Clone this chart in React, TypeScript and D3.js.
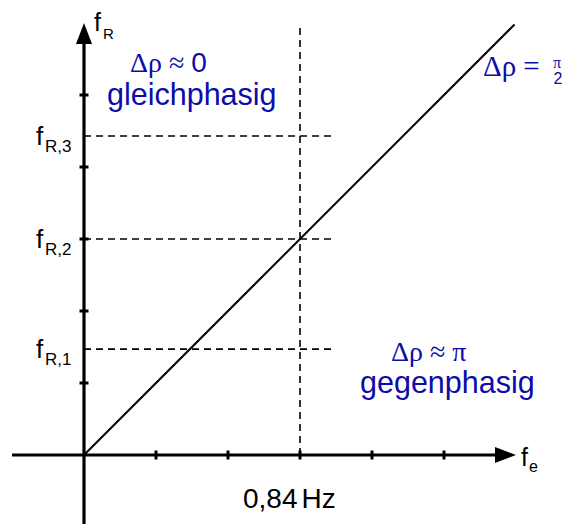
import React from 'react';
import * as d3 from 'd3';

// ticks along both axes (arbitrary units)
const xTicks = [1, 2, 3, 4, 5];
const yTicks = [1, 2, 3, 4, 5];

// resonance levels marked on the f_R axis
const resonanceLevels = [1.47, 3.0, 4.43];
const resonanceSubs = ['R,1', 'R,2', 'R,3'];

// excitation frequency marked on the f_e axis
const driveFreq = 3;
const driveLabel = '0,84';
const driveUnit = 'Hz';

// the line delta-rho = pi/2 (f_R = f_e)
const diagonal: [number, number][] = [[0, 0], [5.98, 5.98]];

const W = 566;
const H = 524;
const blue = '#0c0ca8';
const sans = 'Arial, "Liberation Sans", Helvetica, sans-serif';
const serif = '"Times New Roman", "Liberation Serif", serif';

export default function App() {
  const x = d3.scaleLinear().domain([-1, 6]).range([12, 516]);
  const y = d3.scaleLinear().domain([-1, 6]).range([527, 23]);
  const line = d3.line<[number, number]>().x(d => x(d[0])).y(d => y(d[1]));

  const x0 = x(0), y0 = y(0);
  const xEnd = x(6), yEnd = y(6);
  const dashEnd = x(3.45);

  return (
    <svg width={W} height={H} style={{position: 'absolute', left: 0, top: 0, background: '#fff'}}>
      {/* dashed helper lines */}
      {resonanceLevels.map((r, i) => (
        <line key={'h' + i} x1={x0} x2={dashEnd} y1={y(r)} y2={y(r)}
              stroke="#000" strokeWidth={1.6} strokeDasharray="7,5"/>
      ))}
      <line x1={x(driveFreq)} x2={x(driveFreq)} y1={y0} y2={y(5.97)}
            stroke="#000" strokeWidth={1.6} strokeDasharray="7,5"/>

      {/* diagonal */}
      <path d={line(diagonal) || ''} fill="none" stroke="#000" strokeWidth={2}/>

      {/* x axis */}
      <line x1={x(-1)} x2={xEnd - 18} y1={y0} y2={y0} stroke="#000" strokeWidth={3.2}/>
      <polygon points={`${xEnd},${y0} ${xEnd - 21},${y0 - 8} ${xEnd - 21},${y0 + 8}`} fill="#000"/>
      {xTicks.map(t => (
        <line key={'xt' + t} x1={x(t)} x2={x(t)} y1={y0 - 4.5} y2={y0 + 4.5} stroke="#000" strokeWidth={3}/>
      ))}

      {/* y axis */}
      <line x1={x0} x2={x0} y1={y(-1)} y2={yEnd + 18} stroke="#000" strokeWidth={3.2}/>
      <polygon points={`${x0},${yEnd} ${x0 - 8},${yEnd + 21} ${x0 + 8},${yEnd + 21}`} fill="#000"/>
      {yTicks.map(t => (
        <line key={'yt' + t} x1={x0 - 4.5} x2={x0 + 4.5} y1={y(t)} y2={y(t)} stroke="#000" strokeWidth={3}/>
      ))}

      {/* axis names */}
      <text x={x0 + 10} y={yEnd + 8} fontFamily={sans} fontSize={25} fill="#000">f</text>
      <text x={x0 + 19} y={yEnd + 16} fontFamily={sans} fontSize={15} fill="#000">R</text>
      <text x={xEnd + 5} y={y0 + 11} fontFamily={sans} fontSize={25} fill="#000">f</text>
      <text x={xEnd + 13} y={y0 + 17} fontFamily={sans} fontSize={16} fill="#000">e</text>

      {/* resonance labels */}
      {resonanceLevels.map((r, i) => (
        <g key={'lab' + i}>
          <text x={36} y={y(r) + 9} fontFamily={sans} fontSize={26} fill="#000">f</text>
          <text x={45} y={y(r) + 16} fontFamily={sans} fontSize={17} fill="#000">{resonanceSubs[i]}</text>
        </g>
      ))}

      {/* excitation label */}
      <text x={243} y={508} fontFamily={sans} fontSize={28} fill="#000">
        {driveLabel}<tspan dx={4}>{driveUnit}</tspan>
      </text>

      {/* phase regions */}
      <text x={130} y={72} fontSize={28} fill={blue}>
        <tspan fontFamily={serif}>Δρ ≈ </tspan><tspan fontFamily={sans}>0</tspan>
      </text>
      <text x={107} y={105} fontFamily={sans} fontSize={30.5} fill={blue}>gleichphasig</text>

      <text x={391} y={361} fontFamily={serif} fontSize={28} fill={blue}>Δρ ≈ π</text>
      <text x={360} y={393} fontFamily={sans} fontSize={30.5} fill={blue}>gegenphasig</text>

      <text x={483} y={76} fontFamily={serif} fontSize={29} fill={blue}>Δρ =</text>
      <text x={557} y={68} fontFamily={serif} fontSize={16} fill={blue} textAnchor="middle">π</text>
      <text x={558} y={84} fontFamily={sans} fontSize={16} fill={blue} textAnchor="middle">2</text>
    </svg>
  );
}
